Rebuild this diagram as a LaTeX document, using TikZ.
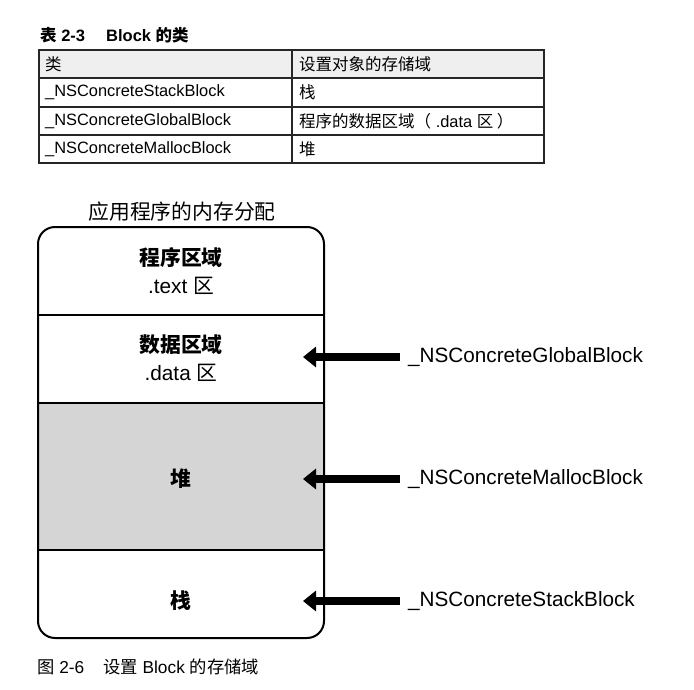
\documentclass[tikz,border=0pt]{standalone}
\usepackage{fontspec}
\setmainfont{Liberation Sans}
\newfontfamily\cjk{Noto Sans CJK SC}
\newcommand\zhtxt[1]{{\cjk #1}}
\usetikzlibrary{arrows.meta}
\definecolor{heapgray}{HTML}{D5D5D5}
\definecolor{headgray}{HTML}{EFEFEF}
\tikzset{
  cell/.style={anchor=west,inner sep=0pt,font=\fontsize{16.4}{18}\selectfont},
  captxt/.style={anchor=west,inner sep=0pt,font=\fontsize{17.3}{19}\selectfont},
  zone/.style={align=center,inner sep=0pt,font=\fontsize{20.8}{28}\selectfont},
  lbl/.style={anchor=west,inner sep=0pt,font=\fontsize{20.7}{24}\selectfont},
  bigarrow/.style={line width=8pt,-{Triangle[width=20pt,length=13pt]}},
  tline/.style={line width=1.3pt,draw=black!85},
}
\begin{document}
\begin{tikzpicture}[x=1pt,y=-1pt]
\useasboundingbox (0,0) rectangle (694,690);
% ---- table title
\node[captxt,font=\fontsize{16.5}{18}\selectfont\bfseries] (t1) at (40,35) {\zhtxt{\bfseries 表} 2-3};
\node[captxt,font=\fontsize{16.5}{18}\selectfont\bfseries] (t2) at (106,35) {Block \zhtxt{\bfseries 的类}};
% ---- table
\fill[headgray] (39,50) rectangle (544,78);
\draw[tline] (39,50) rectangle (544,163);
\draw[tline] (39,78) -- (544,78);
\draw[tline] (39,107) -- (544,107);
\draw[tline] (39,135) -- (544,135);
\draw[tline] (292,50) -- (292,163);
\node[cell] (h1) at (45,64) {\zhtxt{\fontsize{16.5}{18}\selectfont 类}};
\node[cell] (h2) at (299,64) {\zhtxt{\fontsize{16.5}{18}\selectfont 设置对象的存储域}};
\node[cell] (r1a) at (45,92) {\_NSConcreteStackBlock};
\node[cell] (r1b) at (299,92) {\zhtxt{\fontsize{16.5}{18}\selectfont 栈}};
\node[cell] (r2a) at (45,121) {\_NSConcreteGlobalBlock};
\node[cell] (r2b) at (299,121) {\zhtxt{\fontsize{16.5}{18}\selectfont 程序的数据区域（} .data \zhtxt{\fontsize{16.5}{18}\selectfont 区 ）}};
\node[cell] (r3a) at (45,149) {\_NSConcreteMallocBlock};
\node[cell] (r3b) at (299,149) {\zhtxt{\fontsize{16.5}{18}\selectfont 堆}};
% ---- memory diagram
\node[zone] (mtitle) at (182,212) {\zhtxt{应用程序的内存分配}};
\fill[heapgray] (38,403) rectangle (324,550);
\draw[line width=1.6pt] (38,315) -- (324,315);
\draw[line width=1.6pt] (38,403) -- (324,403);
\draw[line width=1.6pt] (38,550) -- (324,550);
\draw[line width=2pt,rounded corners=17pt] (38,227) rectangle (324,638);
\node[zone] (text) at (181,271) {\zhtxt{\bfseries 程序区域}\\.text \zhtxt{区}};
\node[zone] (data) at (181,358) {\zhtxt{\bfseries 数据区域}\\.data \zhtxt{区}};
\node[zone] (heap) at (181,479) {\zhtxt{\bfseries 堆}};
\node[zone] (stack) at (181,601) {\zhtxt{\bfseries 栈}};
% ---- arrows and labels
\node[lbl] (gl) at (408,357) {\_NSConcreteGlobalBlock};
\node[lbl] (ml) at (408,479) {\_NSConcreteMallocBlock};
\node[lbl] (sl) at (408,601) {\_NSConcreteStackBlock};
\coordinate (gh) at (303,357);
\coordinate (mh) at (303,479);
\coordinate (sh) at (303,601);
\draw[bigarrow] ([xshift=-8pt]gl.west) -- (gh);
\draw[bigarrow] ([xshift=-8pt]ml.west) -- (mh);
\draw[bigarrow] ([xshift=-8pt]sl.west) -- (sh);
% ---- caption
\node[captxt] (c1) at (37,667) {\zhtxt{图} 2-6};
\node[captxt] (c2) at (103,667) {\zhtxt{设置} Block \zhtxt{的存储域}};
\end{tikzpicture}
\end{document}
